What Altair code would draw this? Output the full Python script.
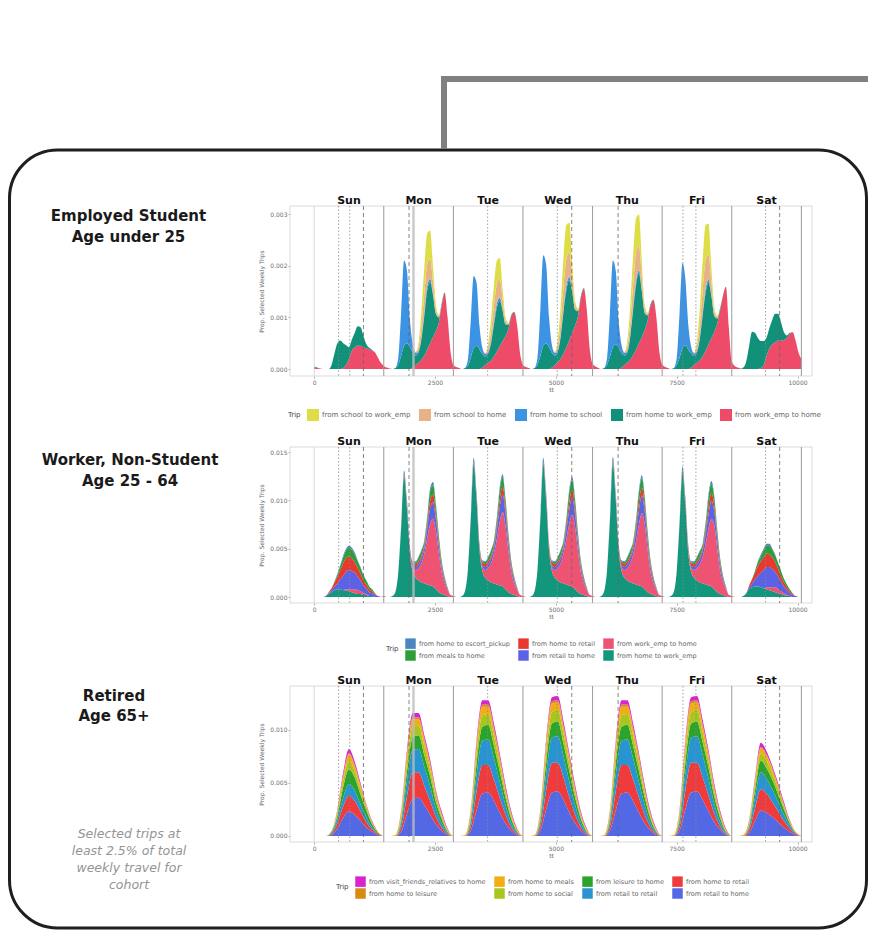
import altair as alt
import pandas as pd

# ---------------------------------------------------------------- data
DAYS = ["Sun", "Mon", "Tue", "Wed", "Thu", "Fri", "Sat"]
DAY_CENTERS = [720, 2160, 3600, 5040, 6480, 7920, 9360]
DAY_BOUNDS = [1440, 2880, 4320, 5760, 7200, 8640, 10080]
WEEK_START = [0]
X_TICKS = [0, 2500, 5000, 7500, 10000]
REF_DOTTED = [506, 736, 3589, 5030, 7630, 7898, 9339]
REF_DASHED = [1020, 1963, 5329, 6288, 9631]
REF_BAND = [2055]

ROW_LABELS = [["Employed Student", "Age under 25"],
              ["Worker, Non-Student", "Age 25 - 64"],
              ["Retired", "Age 65+"]]
FOOTNOTE = ["Selected trips at", "least 2.5% of total", "weekly travel for", "cohort"]

Z24 = [0] * 24

# ---- Panel 1: Employed Student, hourly values, units of 1e-5
P1_WORK_TO_HOME = [
    [3, 2, 1, 0, 0, 0, 0, 0, 0, 0, 2, 8, 20, 35, 42, 45, 45, 42, 40, 38, 36, 32, 22, 12],
    [6, 3, 1, 0, 0, 0, 0, 0, 0, 0, 3, 8, 12, 18, 26, 38, 50, 62, 74, 90, 124, 146, 100, 35],
    [8, 4, 2, 0, 0, 0, 0, 0, 0, 0, 3, 8, 12, 16, 24, 34, 44, 54, 64, 78, 102, 110, 84, 30],
    [8, 4, 2, 0, 0, 0, 0, 0, 0, 0, 3, 8, 13, 20, 30, 42, 56, 70, 84, 102, 138, 156, 115, 40],
    [10, 5, 2, 0, 0, 0, 0, 0, 0, 0, 3, 8, 12, 18, 27, 38, 50, 62, 76, 94, 122, 133, 100, 35],
    [9, 4, 2, 0, 0, 0, 0, 0, 0, 0, 3, 8, 12, 17, 25, 36, 48, 60, 72, 88, 114, 142, 159, 80],
    [15, 6, 3, 1, 0, 0, 0, 0, 0, 0, 2, 8, 25, 40, 48, 52, 55, 55, 56, 60, 68, 71, 55, 32],
]
P1_HOME_TO_WORK = [
    [2, 1, 0, 0, 0, 0, 8, 30, 50, 55, 48, 38, 22, 22, 28, 38, 36, 22, 8, 3, 1, 0, 0, 0],
    [0, 0, 0, 0, 2, 8, 25, 45, 50, 42, 30, 18, 20, 40, 78, 115, 118, 80, 32, 10, 4, 2, 1, 0],
    [0, 0, 0, 0, 2, 6, 22, 40, 45, 38, 26, 16, 18, 34, 62, 85, 88, 58, 22, 8, 3, 1, 0, 0],
    [0, 0, 0, 0, 2, 8, 25, 45, 50, 42, 28, 18, 20, 42, 82, 112, 116, 78, 30, 10, 4, 1, 0, 0],
    [0, 0, 0, 0, 2, 8, 24, 42, 48, 40, 28, 18, 20, 45, 88, 125, 135, 88, 32, 10, 4, 1, 0, 0],
    [0, 0, 0, 0, 2, 7, 22, 40, 46, 38, 27, 17, 20, 42, 80, 112, 119, 80, 30, 10, 4, 1, 0, 0],
    [0, 0, 0, 0, 3, 15, 45, 72, 70, 60, 52, 46, 36, 40, 48, 55, 52, 35, 15, 5, 2, 0, 0, 0],
]
P1_HOME_TO_SCHOOL = [
    Z24,
    [0, 0, 0, 0, 0, 14, 85, 165, 140, 55, 15, 5, 3, 4, 6, 8, 6, 3, 1, 0, 0, 0, 0, 0],
    [0, 0, 0, 0, 0, 12, 72, 140, 122, 46, 12, 5, 3, 4, 6, 8, 6, 3, 1, 0, 0, 0, 0, 0],
    [0, 0, 0, 0, 0, 14, 90, 175, 152, 58, 15, 5, 3, 4, 6, 8, 6, 3, 1, 0, 0, 0, 0, 0],
    [0, 0, 0, 0, 0, 14, 86, 168, 142, 54, 15, 5, 3, 4, 6, 8, 6, 3, 1, 0, 0, 0, 0, 0],
    [0, 0, 0, 0, 0, 14, 86, 165, 128, 48, 13, 5, 3, 4, 6, 8, 6, 3, 1, 0, 0, 0, 0, 0],
    Z24,
]
P1_SCHOOL_TO_HOME = [
    Z24,
    [0, 0, 0, 0, 0, 0, 0, 0, 0, 0, 0, 2, 8, 22, 36, 42, 40, 24, 9, 3, 0, 0, 0, 0],
    [0, 0, 0, 0, 0, 0, 0, 0, 0, 0, 0, 2, 8, 19, 30, 38, 36, 19, 7, 2, 0, 0, 0, 0],
    [0, 0, 0, 0, 0, 0, 0, 0, 0, 0, 0, 2, 10, 24, 43, 52, 48, 24, 8, 3, 0, 0, 0, 0],
    [0, 0, 0, 0, 0, 0, 0, 0, 0, 0, 0, 2, 10, 24, 43, 55, 48, 24, 8, 3, 0, 0, 0, 0],
    [0, 0, 0, 0, 0, 0, 0, 0, 0, 0, 0, 2, 10, 24, 43, 55, 48, 24, 8, 3, 0, 0, 0, 0],
    Z24,
]
P1_SCHOOL_TO_WORK = [
    Z24,
    [0, 0, 0, 0, 0, 0, 0, 0, 0, 0, 0, 0, 8, 30, 52, 60, 54, 28, 8, 2, 0, 0, 0, 0],
    [0, 0, 0, 0, 0, 0, 0, 0, 0, 0, 0, 0, 8, 24, 40, 45, 41, 21, 6, 1, 0, 0, 0, 0],
    [0, 0, 0, 0, 0, 0, 0, 0, 0, 0, 0, 0, 10, 32, 57, 65, 57, 27, 8, 2, 0, 0, 0, 0],
    [0, 0, 0, 0, 0, 0, 0, 0, 0, 0, 0, 0, 10, 32, 57, 66, 60, 29, 8, 2, 0, 0, 0, 0],
    [0, 0, 0, 0, 0, 0, 0, 0, 0, 0, 0, 0, 10, 33, 59, 68, 60, 27, 8, 2, 0, 0, 0, 0],
    Z24,
]
P1_END = [20, 0, 0, 0, 0]
P1_STACK = ["from work_emp to home", "from home to work_emp", "from home to school",
            "from school to home", "from school to work_emp"]
P1_LEGEND = ["from school to work_emp", "from school to home", "from home to school",
             "from home to work_emp", "from work_emp to home"]
P1_COLORS = ["#dedd46", "#e8b287", "#3d93e3", "#11917a", "#ee4b68"]

# ---- Panel 2: Worker, Non-Student, hourly values, units of 1e-4
WD_RETAIL = [0, 0, 0, 0, 0, 0, 1, 2, 3, 3, 3, 3, 3, 3, 3, 5, 8, 8, 6, 4, 3, 2, 1, 0]
WD_MEALS = [0, 0, 0, 0, 0, 0, 0, 1, 1, 1, 1, 2, 4, 5, 4, 6, 10, 10, 8, 6, 4, 2, 1, 0]
WD_ESCORT = [0, 0, 0, 0, 0, 0, 2, 4, 3, 1, 1, 1, 1, 1, 1, 2, 3, 3, 2, 1, 0, 0, 0, 0]
P2_HOME_TO_WORK = [
    [0, 0, 0, 0, 1, 3, 5, 7, 8, 8, 7, 7, 6, 5, 4, 3, 3, 2, 2, 1, 1, 0, 0, 0],
    [0, 0, 0, 1, 5, 25, 72, 124, 92, 45, 26, 20, 17, 15, 14, 13, 12, 11, 8, 5, 3, 2, 1, 0],
    [0, 0, 0, 1, 6, 28, 80, 137, 100, 48, 27, 20, 17, 15, 14, 13, 12, 11, 8, 5, 3, 2, 1, 0],
    [0, 0, 0, 1, 6, 28, 80, 137, 100, 48, 27, 20, 17, 15, 14, 13, 12, 11, 8, 5, 3, 2, 1, 0],
    [0, 0, 0, 1, 6, 28, 80, 138, 100, 48, 27, 20, 17, 15, 14, 13, 12, 11, 8, 5, 3, 2, 1, 0],
    [0, 0, 0, 1, 5, 26, 75, 128, 95, 46, 26, 20, 17, 15, 14, 13, 12, 11, 8, 5, 3, 2, 1, 0],
    [0, 0, 0, 0, 1, 4, 8, 10, 11, 11, 10, 9, 8, 7, 6, 5, 4, 3, 2, 1, 1, 0, 0, 0],
]
P2_WORK_TO_HOME = [
    [0, 0, 0, 0, 0, 0, 0, 0, 0, 0, 0, 1, 2, 3, 4, 4, 3, 2, 1, 0, 0, 0, 0, 0],
    [1, 0, 0, 0, 0, 0, 0, 0, 1, 2, 4, 8, 13, 20, 31, 48, 64, 70, 60, 40, 22, 12, 6, 2],
    [1, 0, 0, 0, 0, 0, 0, 0, 1, 2, 4, 8, 13, 20, 31, 47, 66, 77, 65, 42, 22, 12, 6, 2],
    [1, 0, 0, 0, 0, 0, 0, 0, 1, 2, 4, 8, 13, 20, 31, 47, 64, 74, 64, 42, 22, 12, 6, 2],
    [1, 0, 0, 0, 0, 0, 0, 0, 1, 2, 4, 8, 13, 20, 30, 45, 63, 76, 67, 44, 23, 12, 6, 2],
    [1, 0, 0, 0, 0, 0, 0, 0, 1, 2, 4, 8, 13, 19, 28, 42, 59, 70, 66, 45, 24, 13, 7, 2],
    [1, 0, 0, 0, 0, 0, 0, 0, 0, 0, 0, 0, 2, 3, 4, 5, 4, 3, 2, 1, 0, 0, 0, 0],
]
P2_RETAIL_TO_HOME = [
    [0, 0, 0, 0, 0, 1, 2, 4, 6, 10, 15, 18, 20, 19, 17, 14, 11, 8, 6, 4, 3, 2, 1, 0],
    [0, 0, 0, 0, 0, 0, 0, 0, 1, 1, 2, 3, 4, 5, 6, 10, 16, 17, 12, 8, 5, 3, 1, 0],
    [0, 0, 0, 0, 0, 0, 0, 0, 1, 1, 2, 3, 4, 5, 6, 10, 15, 18, 13, 8, 5, 3, 1, 0],
    [0, 0, 0, 0, 0, 0, 0, 0, 1, 1, 2, 3, 4, 5, 6, 10, 15, 18, 13, 8, 5, 3, 1, 0],
    [0, 0, 0, 0, 0, 0, 0, 0, 1, 1, 2, 3, 4, 5, 6, 10, 15, 18, 13, 8, 5, 3, 1, 0],
    [0, 0, 0, 0, 0, 0, 0, 0, 1, 1, 2, 3, 4, 5, 6, 10, 15, 18, 14, 9, 6, 3, 1, 0],
    [0, 0, 0, 0, 0, 0, 2, 4, 7, 11, 15, 19, 21, 21, 19, 16, 13, 10, 7, 5, 3, 2, 1, 0],
]
P2_HOME_TO_RETAIL = [
    [0, 0, 0, 0, 0, 1, 2, 4, 7, 10, 13, 14, 14, 13, 11, 9, 7, 5, 4, 3, 2, 1, 0, 0],
    WD_RETAIL, WD_RETAIL, WD_RETAIL, WD_RETAIL, WD_RETAIL,
    [0, 0, 0, 0, 0, 0, 2, 4, 7, 10, 12, 13, 14, 13, 12, 10, 8, 6, 4, 3, 2, 1, 0, 0],
]
P2_MEALS_TO_HOME = [
    [0, 0, 0, 0, 0, 0, 0, 1, 2, 4, 6, 8, 9, 9, 8, 7, 6, 5, 4, 3, 2, 1, 0, 0],
    WD_MEALS, WD_MEALS, WD_MEALS, WD_MEALS, WD_MEALS,
    [0, 0, 0, 0, 0, 0, 0, 1, 2, 4, 5, 7, 8, 9, 8, 7, 6, 5, 4, 3, 2, 1, 0, 0],
]
P2_HOME_TO_ESCORT = [
    [0, 0, 0, 0, 0, 0, 0, 0, 1, 1, 2, 2, 2, 2, 2, 1, 1, 1, 0, 0, 0, 0, 0, 0],
    WD_ESCORT, WD_ESCORT, WD_ESCORT, WD_ESCORT, WD_ESCORT,
    [0, 0, 0, 0, 0, 0, 0, 0, 0, 1, 2, 2, 2, 2, 1, 1, 0, 0, 0, 0, 0, 0, 0, 0],
]
P2_END = [0, 0, 0, 0, 0, 0]
P2_STACK = ["from home to work_emp", "from work_emp to home", "from retail to home",
            "from home to retail", "from meals to home", "from home to escort_pickup"]
P2_LEGEND = ["from home to escort_pickup", "from home to retail", "from work_emp to home",
             "from meals to home", "from retail to home", "from home to work_emp"]
P2_COLORS = ["#4b86c2", "#e8392f", "#ee5372", "#2e9d3a", "#5b62e6", "#12967c"]

# ---- Panel 3: Retired, values every 2 hours, units of 1e-4
P3_RETAIL_TO_HOME = [
    [0, 0, 0, 1, 7, 17, 23, 20, 14, 8, 4, 1],
    [0, 0, 0, 4, 21, 35, 36, 29, 20, 11, 5, 1],
    [0, 0, 0, 5, 24, 40, 41, 33, 22, 12, 5, 1],
    [0, 0, 0, 5, 25, 41, 42, 34, 22, 12, 5, 1],
    [0, 0, 0, 5, 24, 40, 41, 33, 22, 12, 5, 1],
    [0, 0, 0, 5, 25, 41, 42, 34, 23, 13, 6, 1],
    [0, 0, 0, 3, 14, 24, 22, 18, 13, 8, 4, 1],
]
P3_HOME_TO_RETAIL = [
    [0, 0, 0, 1, 5, 11, 15, 13, 9, 5, 2, 1],
    [0, 0, 0, 4, 16, 25, 24, 18, 13, 7, 3, 1],
    [0, 0, 0, 4, 18, 27, 26, 20, 14, 8, 3, 1],
    [0, 0, 0, 4, 18, 28, 27, 21, 14, 8, 3, 1],
    [0, 0, 0, 4, 18, 27, 26, 20, 14, 8, 3, 1],
    [0, 0, 0, 4, 18, 28, 27, 21, 15, 8, 3, 1],
    [0, 0, 0, 3, 12, 20, 18, 14, 10, 6, 3, 1],
]
P3_RETAIL_TO_RETAIL = [
    [0, 0, 0, 1, 4, 8, 11, 10, 7, 5, 2, 0],
    [0, 0, 0, 4, 15, 21, 22, 18, 14, 8, 4, 1],
    [0, 0, 0, 4, 16, 23, 24, 20, 15, 9, 4, 1],
    [0, 0, 0, 4, 16, 24, 25, 20, 15, 9, 4, 1],
    [0, 0, 0, 4, 16, 23, 24, 20, 15, 9, 4, 1],
    [0, 0, 0, 4, 16, 24, 25, 21, 16, 9, 4, 1],
    [0, 0, 0, 2, 10, 16, 14, 12, 9, 6, 3, 1],
]
P3_LEISURE_TO_HOME = [
    [0, 0, 0, 1, 3, 10, 14, 12, 9, 6, 3, 1],
    [0, 0, 0, 3, 9, 12, 13, 11, 9, 6, 4, 1],
    [0, 0, 0, 3, 10, 13, 14, 12, 10, 7, 4, 1],
    [0, 0, 0, 3, 10, 13, 14, 12, 10, 7, 4, 1],
    [0, 0, 0, 3, 10, 13, 14, 12, 10, 7, 4, 1],
    [0, 0, 0, 3, 10, 13, 14, 12, 10, 7, 4, 1],
    [0, 0, 0, 2, 7, 11, 10, 9, 7, 5, 2, 0],
]
P3_HOME_TO_SOCIAL = [
    [0, 0, 0, 1, 2, 6, 8, 6, 5, 3, 1, 0],
    [0, 0, 0, 3, 8, 10, 9, 8, 6, 5, 2, 1],
    [0, 0, 0, 3, 9, 11, 10, 9, 7, 5, 2, 1],
    [0, 0, 0, 3, 9, 11, 11, 9, 7, 5, 2, 1],
    [0, 0, 0, 3, 9, 11, 10, 9, 7, 5, 2, 1],
    [0, 0, 0, 3, 9, 11, 11, 9, 7, 5, 2, 1],
    [0, 0, 0, 2, 5, 7, 7, 6, 5, 3, 1, 0],
]
P3_HOME_TO_MEALS = [
    [0, 0, 0, 0, 2, 4, 6, 5, 3, 2, 1, 1],
    [0, 0, 1, 4, 7, 7, 6, 6, 5, 3, 2, 1],
    [0, 0, 1, 4, 8, 8, 7, 6, 5, 3, 2, 1],
    [0, 0, 1, 4, 8, 8, 7, 6, 5, 3, 2, 1],
    [0, 0, 1, 4, 8, 8, 7, 6, 5, 3, 2, 1],
    [0, 0, 1, 4, 8, 8, 7, 6, 5, 3, 2, 1],
    [0, 0, 1, 2, 4, 5, 5, 4, 3, 2, 1, 1],
]
P3_HOME_TO_LEISURE = [
    [0, 0, 0, 0, 1, 1, 1, 1, 1, 0, 0, 0],
    [0, 0, 0, 1, 2, 2, 2, 2, 2, 1, 1, 0],
    [0, 0, 0, 1, 2, 2, 2, 2, 2, 1, 1, 0],
    [0, 0, 0, 1, 2, 2, 2, 2, 2, 1, 1, 0],
    [0, 0, 0, 1, 2, 2, 2, 2, 2, 1, 1, 0],
    [0, 0, 0, 1, 2, 2, 2, 2, 2, 1, 1, 0],
    [0, 0, 0, 0, 1, 1, 1, 1, 1, 0, 0, 0],
]
P3_VISIT_TO_HOME = [
    [0, 0, 0, 0, 1, 3, 4, 3, 2, 1, 1, 0],
    [0, 0, 0, 1, 3, 4, 4, 3, 3, 2, 2, 1],
    [0, 0, 0, 1, 3, 4, 4, 4, 3, 3, 2, 1],
    [0, 0, 0, 1, 3, 4, 4, 4, 3, 3, 2, 1],
    [0, 0, 0, 1, 3, 4, 4, 4, 3, 3, 2, 1],
    [0, 0, 0, 1, 3, 4, 4, 4, 3, 3, 2, 1],
    [0, 0, 0, 1, 2, 4, 3, 2, 2, 2, 1, 0],
]
P3_END = [0, 0, 0, 0, 0, 0, 0, 0]
P3_STACK = ["from retail to home", "from home to retail", "from retail to retail",
            "from leisure to home", "from home to social", "from home to meals",
            "from home to leisure", "from visit_friends_relatives to home"]
P3_LEGEND = ["from visit_friends_relatives to home", "from home to meals",
             "from leisure to home", "from home to retail",
             "from home to leisure", "from home to social",
             "from retail to retail", "from retail to home"]
P3_COLORS = ["#d923d0", "#f2ad13", "#2ca42c", "#ef3b3b",
             "#d68b12", "#a9c51f", "#2894d2", "#5368e5"]


# ---------------------------------------------------------------- build
def panel_frame(trips, series, step_h, unit, ends):
    rows = []
    for k, (trip, days) in enumerate(zip(trips, series)):
        assert len(days) == 7, trip
        for d, vals in enumerate(days):
            assert len(vals) == 24 // step_h, (trip, d, len(vals))
            for i, v in enumerate(vals):
                rows.append((d * 1440 + i * step_h * 60, v * unit, trip, k))
        rows.append((10080, ends[k] * unit, trip, k))
    return pd.DataFrame(rows, columns=["minute", "prop", "trip", "ord"])


DF1 = panel_frame(P1_STACK, [P1_WORK_TO_HOME, P1_HOME_TO_WORK, P1_HOME_TO_SCHOOL,
                             P1_SCHOOL_TO_HOME, P1_SCHOOL_TO_WORK], 1, 1e-5, P1_END)
DF2 = panel_frame(P2_STACK, [P2_HOME_TO_WORK, P2_WORK_TO_HOME, P2_RETAIL_TO_HOME,
                             P2_HOME_TO_RETAIL, P2_MEALS_TO_HOME, P2_HOME_TO_ESCORT], 1, 1e-4, P2_END)
DF3 = panel_frame(P3_STACK, [P3_RETAIL_TO_HOME, P3_HOME_TO_RETAIL, P3_RETAIL_TO_RETAIL,
                             P3_LEISURE_TO_HOME, P3_HOME_TO_SOCIAL, P3_HOME_TO_MEALS,
                             P3_HOME_TO_LEISURE, P3_VISIT_TO_HOME], 2, 1e-4, P3_END)

W, H = 860, 922
PX0, PX1 = 282, 804
ONE = pd.DataFrame({"k": [0]})
FONT = "DejaVu Sans"


def xs():
    return alt.Scale(domain=[-500, 10300], range=[PX0, PX1], nice=False, zero=False)


def rules(values, top, bot, **kw):
    return alt.Chart(pd.DataFrame({"minute": values})).mark_rule(**kw).encode(
        x=alt.X("minute:Q", scale=xs(), axis=None),
        y=alt.value(top), y2=alt.value(bot))


def panel(df, legend_dom, colors, ydom, top, bot, yticks, lx, ly, cols, sym, labfs, titlefs):
    ys = alt.Scale(domain=ydom, range=[bot, top], nice=False, zero=False)
    border = alt.Chart(ONE).mark_rect(fillOpacity=0, stroke="#d2d2d2", strokeWidth=0.8).encode(
        x=alt.value(PX0), x2=alt.value(PX1), y=alt.value(top), y2=alt.value(bot))
    area = alt.Chart(df).mark_area(interpolate="monotone").encode(
        x=alt.X("minute:Q", scale=xs(), axis=alt.Axis(
            orient="bottom", offset=bot - H, values=X_TICKS, format="d", title="tt",
            labelFont=FONT, labelFontSize=6, labelColor="#6e6e6e", labelFlush=False,
            tickColor="#aaa", tickSize=2, domain=False, grid=False, labelPadding=1,
            titleFont=FONT, titleFontSize=6, titleColor="#666", titleFontWeight="normal",
            titlePadding=1)),
        y=alt.Y("prop:Q", stack="zero", scale=ys, axis=alt.Axis(
            orient="left", offset=-PX0, values=yticks, format=".3f",
            title="Prop. Selected Weekly Trips", labelFont=FONT, labelFontSize=6,
            labelColor="#6e6e6e", tickColor="#aaa", tickSize=2, domain=False, grid=False,
            labelPadding=1, titleFont=FONT, titleFontSize=6, titleColor="#666",
            titleFontWeight="normal", titlePadding=5)),
        color=alt.Color("trip:N", scale=alt.Scale(domain=legend_dom, range=colors),
                        legend=alt.Legend(
                            orient="none", legendX=lx, legendY=ly, direction="horizontal",
                            columns=cols, title="Trip", titleOrient="left",
                            titleFont=FONT, titleFontSize=titlefs, titleFontWeight="normal",
                            titleColor="#444", titlePadding=6,
                            labelFont=FONT, labelFontSize=labfs, labelColor="#666",
                            labelLimit=300, labelOffset=3,
                            symbolType="square", symbolSize=sym, symbolStrokeWidth=0,
                            symbolOpacity=1, rowPadding=1, columnPadding=8)),
        order=alt.Order("ord:Q", sort="ascending"),
    )
    strips = alt.Chart(pd.DataFrame({"c": DAY_CENTERS, "d": DAYS})).mark_text(
        font=FONT, fontWeight="bold", fontSize=11, color="#111", baseline="middle").encode(
        x=alt.X("c:Q", scale=xs(), axis=None), y=alt.value(top - 5), text="d:N")
    return [
        border,
        area,
        rules(WEEK_START, top, bot, color="#cfcfcf", strokeWidth=0.8),
        rules(DAY_BOUNDS, top, bot, color="#9a9a9a", strokeWidth=1),
        rules(REF_BAND, top, bot, color="#bdbdbd", strokeWidth=2.5, opacity=0.8),
        rules(REF_DOTTED, top, bot, color="#8a8a8a", strokeWidth=0.8, strokeDash=[1.5, 2]),
        rules(REF_DASHED, top, bot, color="#666", strokeWidth=0.8, strokeDash=[4, 3]),
        strips,
    ]


def text(txt, x, y, **kw):
    return alt.Chart(pd.DataFrame({"t": [txt]})).mark_text(**kw).encode(
        x=alt.value(x), y=alt.value(y), text="t:N")


layers = []
layers.append(alt.Chart(ONE).mark_rect(fillOpacity=0, stroke="#1f1f1f", strokeWidth=3,
                                       cornerRadius=48).encode(
    x=alt.value(1.5), x2=alt.value(858.5), y=alt.value(142), y2=alt.value(920)))
layers.append(alt.Chart(ONE).mark_rule(color="#808080", strokeWidth=6).encode(
    x=alt.value(433), x2=alt.value(860), y=alt.value(71)))
layers.append(alt.Chart(ONE).mark_rule(color="#808080", strokeWidth=6).encode(
    x=alt.value(436), y=alt.value(68), y2=alt.value(141)))

label_kw = dict(font=FONT, fontWeight="bold", fontSize=15, color="#1a1a1a",
                align="center", baseline="middle")
row_pos = [(120.5, 208, 229), (122, 452, 473), (106, 688, 708)]
for (l1, l2), (x, y1, y2) in zip(ROW_LABELS, row_pos):
    layers.append(text(l1, x, y1, **label_kw))
    layers.append(text(l2, x, y2, **label_kw))

foot_kw = dict(font=FONT, fontStyle="italic", fontSize=12.5, color="#949494",
               align="center", baseline="middle")
for i, line in enumerate(FOOTNOTE):
    layers.append(text(line, 121, 826 + 17 * i, **foot_kw))

layers += panel(DF1, P1_LEGEND, P1_COLORS, [-0.000135, 0.003155], 198, 368,
                [0, 0.001, 0.002, 0.003], 280, 401, 5, 144, 7, 7)
layers += panel(DF2, P2_LEGEND, P2_COLORS, [-0.00062, 0.01552], 439, 595,
                [0, 0.005, 0.010, 0.015], 378, 630, 3, 110, 6.5, 7)
layers += panel(DF3, P3_LEGEND, P3_COLORS, [-0.00057, 0.01415], 678, 834,
                [0, 0.005, 0.010], 328, 868, 4, 110, 6.5, 7)

chart = alt.layer(*layers).resolve_scale(
    x="independent", y="independent", color="independent"
).properties(
    width=W, height=H, padding=0, autosize=alt.AutoSizeParams(type="none")
).configure_view(strokeWidth=0)

chart.save("out.html", embed_options={"renderer": "svg", "actions": False})
